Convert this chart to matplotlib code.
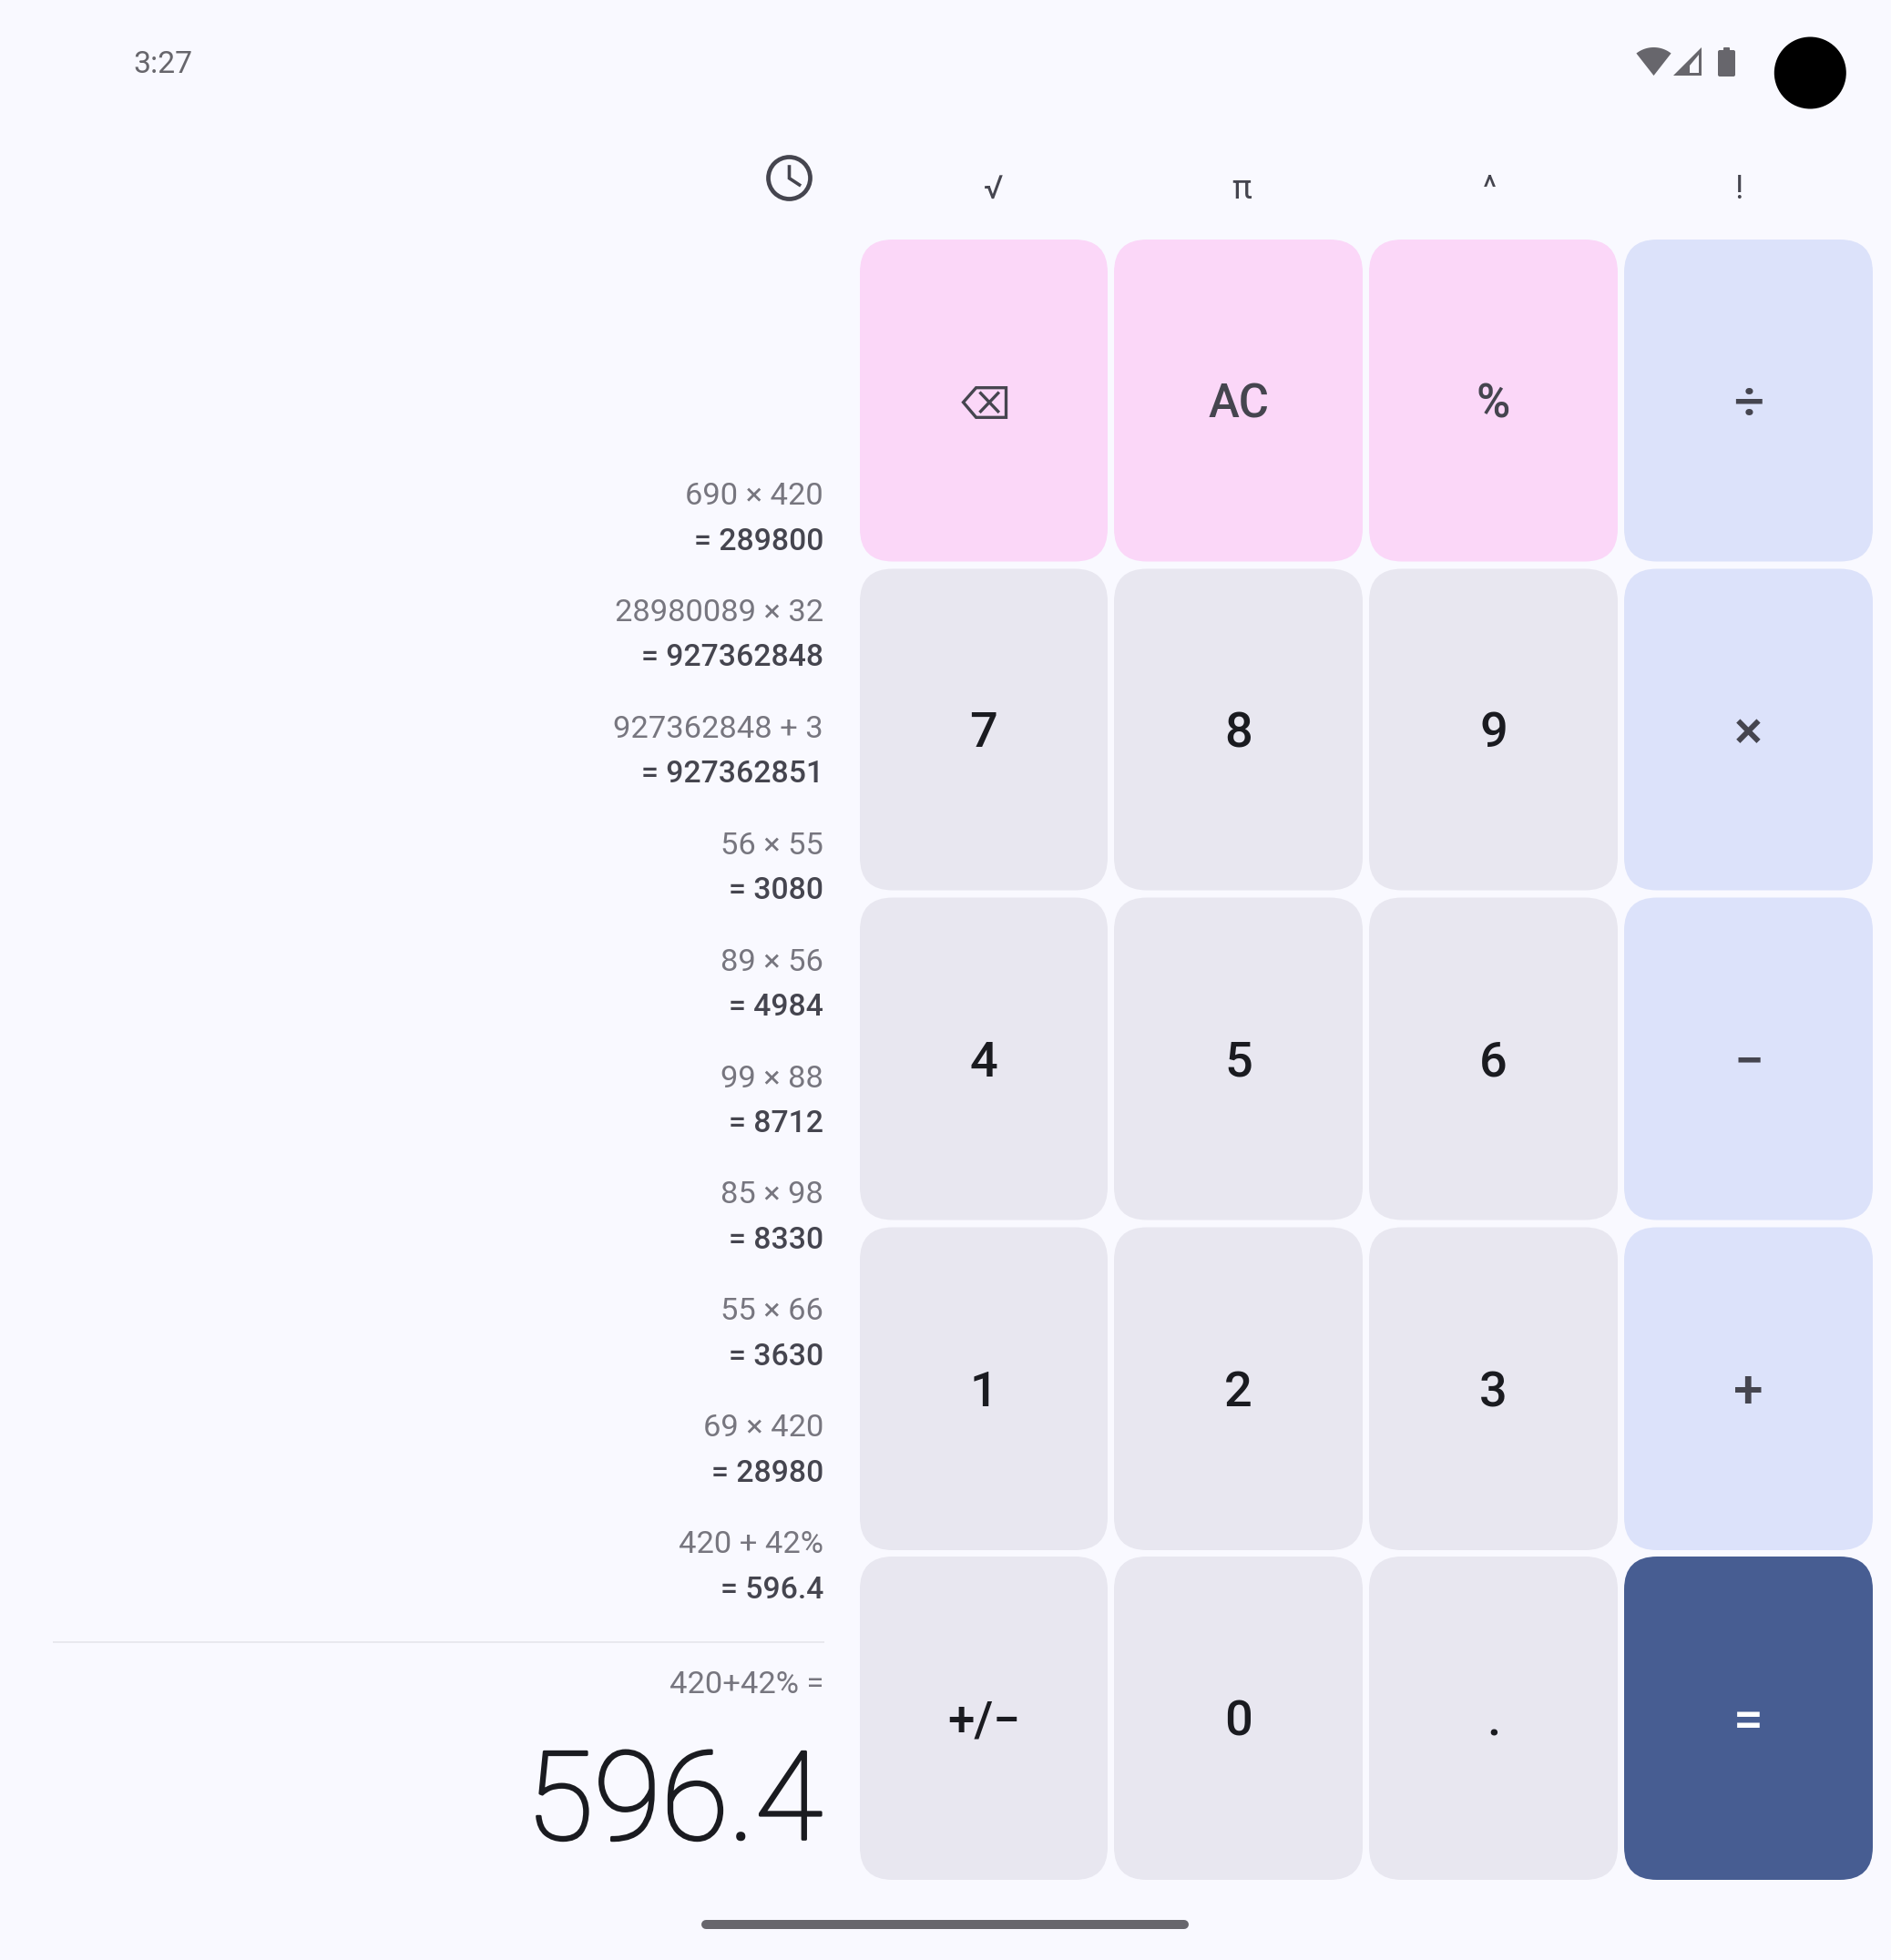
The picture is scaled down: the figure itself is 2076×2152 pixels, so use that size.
#!/usr/bin/env python3
"""plot.py - calculator screenshot redrawn with matplotlib"""

import matplotlib
matplotlib.use('Agg')
import matplotlib.pyplot as plt
import matplotlib.patheffects as pe
import numpy as np
from matplotlib.patches import Circle, Ellipse, FancyBboxPatch, Polygon

plt.rcParams['font.family'] = ['Roboto', 'DejaVu Sans']

# Screen content
status_time = '3:27'
science_keys = ['√', 'π', '^', '!']
key_rows = [
    ['⌫', 'AC', '%', '÷'],
    ['7', '8', '9', '×'],
    ['4', '5', '6', '−'],
    ['1', '2', '3', '+'],
    ['+/−', '0', '.', '='],
]
history_expr = ['690 × 420', '28980089 × 32', '927362848 + 3', '56 × 55', '89 × 56',
                '99 × 88', '85 × 98', '55 × 66', '69 × 420', '420 + 42%']
history_result = ['= 289800', '= 927362848', '= 927362851', '= 3080', '= 4984',
                  '= 8712', '= 8330', '= 3630', '= 28980', '= 596.4']
current_expr = '420+42% ='
current_result = '596.4'

# Colours
BG = '#f9f9ff'
PINK = '#fbd7f8'
BLUE = '#dce2fa'
GREY = '#e8e7f0'
NAVY = '#475d92'
DARK = '#1a1b20'
MID = '#45454f'
SOFT = '#77767f'
ICON = '#67666c'

# Layout in screen pixels
W, H = 2076, 2152
col_left = [944, 1223, 1503, 1783]
col_right = [1216, 1496, 1776, 2056]
row_top = [263, 624.5, 985.5, 1347.5, 1709]
row_bottom = [616.5, 977.5, 1339.5, 1702, 2064]
RADIUS = 36
CAP = 0.711  # Roboto cap height / em


def key_colours(r, c):
    """Fill and label colour of one key"""
    if r == 4 and c == 3:
        return NAVY, 'white'
    if c == 3:
        return BLUE, MID
    if r == 0:
        return PINK, MID
    return GREY, DARK


def key_size(r, c, label):
    if c == 3:
        return 42
    if r == 0:
        return 36.5
    if label == '+/−':
        return 38
    return 39


def draw_key(ax, r, c, label):
    x0, x1 = col_left[c], col_right[c]
    y0, y1 = row_top[r], row_bottom[r]
    fill, ink = key_colours(r, c)
    ax.add_patch(FancyBboxPatch((x0 + RADIUS, y0 + RADIUS), x1 - x0 - 2 * RADIUS, y1 - y0 - 2 * RADIUS,
                                boxstyle=f'round,pad={RADIUS},rounding_size={RADIUS}',
                                fc=fill, ec='none'))
    if label == '⌫':
        draw_backspace(ax)
        return
    size = key_size(r, c, label)
    # baseline from the cap height so every glyph sits centred like on the device
    baseline = (y0 + y1) / 2 + CAP * size * 100 / 72 / 2
    if r == 0 and c < 3:
        baseline += 1
    ax.text((x0 + x1) / 2, baseline, label, ha='center', va='baseline', fontsize=size,
            color=ink, fontweight='medium')


def draw_backspace(ax):
    outline = [(1057.5, 441.7), (1071.6, 425.7), (1104.5, 425.7), (1104.5, 458.3), (1071.6, 458.3)]
    ax.add_patch(Polygon(outline, closed=True, fc='none', ec=MID, lw=2.4, joinstyle='miter'))
    ax.plot([1076.6, 1095.7], [431.7, 451.7], color=MID, lw=2.4)
    ax.plot([1076.6, 1095.7], [451.7, 431.7], color=MID, lw=2.4)


def draw_status_icons(ax):
    # wifi fan
    a = np.radians(np.linspace(-38, 38, 30))
    apex = (1815.5, 83)
    fan = [apex] + [(apex[0] + 31 * np.sin(t), apex[1] - 31 * np.cos(t)) for t in a]
    ax.add_patch(Polygon(fan, closed=True, fc=ICON, ec='none'))
    # cell signal
    ax.add_patch(Polygon([(1837.3, 82.7), (1867.7, 82.7), (1867.7, 52.3)], closed=True, fc=ICON, ec='none'))
    ax.add_patch(Polygon([(1855, 80), (1865, 80), (1865, 60), (1855, 72)], closed=True, fc=BG, ec='none'))
    # battery
    ax.add_patch(FancyBboxPatch((1888, 57), 15, 25, boxstyle='round,pad=2,rounding_size=2', fc=ICON, ec='none'))
    ax.add_patch(FancyBboxPatch((1893, 53), 5, 3, boxstyle='round,pad=1,rounding_size=1', fc=ICON, ec='none'))
    # camera cutout
    ax.add_patch(Circle((1987.3, 80), 39.5, fc='black', ec='none'))


def draw_clock(ax):
    ax.add_patch(Ellipse((866.5, 195.5), 46, 46, fc='none', ec=MID, lw=3.4))
    ax.plot([866.5, 866.5, 877.6], [183, 195.7, 203], color=MID, lw=2.6, solid_joinstyle='miter')


def main():
    fig = plt.figure(figsize=(W / 100, H / 100), dpi=100, facecolor=BG)
    ax = fig.add_axes([0, 0, 1, 1])
    ax.set_xlim(0, W)
    ax.set_ylim(H, 0)
    ax.axis('off')

    ax.text(146, 68, status_time, ha='left', va='center_baseline', fontsize=24.3, color=ICON)
    draw_status_icons(ax)
    draw_clock(ax)

    for x, key in zip([1091, 1363, 1635, 1909], science_keys):
        ax.text(x, 204, key, ha='center', va='center_baseline', fontsize=26, color=MID)

    for r, row in enumerate(key_rows):
        for c, label in enumerate(row):
            draw_key(ax, r, c, label)

    # History column, newest at the bottom
    for i, (expr, res) in enumerate(zip(history_expr, history_result)):
        ax.text(904, 554 + i * 127.9, expr, ha='right', va='baseline', fontsize=24.8, color=SOFT)
        ax.text(904, 603.5 + i * 127.9, res, ha='right', va='baseline', fontsize=24.3,
                color=MID, fontweight='medium')

    ax.plot([59, 904], [1803, 1803], color='#e8e8ee', lw=1.4)
    ax.text(904, 1859, current_expr, ha='right', va='baseline', fontsize=24.8, color=SOFT)
    big = ax.text(903, 2019.5, current_result, ha='right', va='baseline', fontsize=97.5, color=DARK, fontweight='light')
    big.set_path_effects([pe.withStroke(linewidth=2.0, foreground=DARK)])

    ax.plot([775, 1300], [2113, 2113], color=ICON, lw=7.2, solid_capstyle='round')

    fig.savefig('out.png', dpi=100, facecolor=BG)
    print('Saved out.png')


if __name__ == "__main__":
    main()
